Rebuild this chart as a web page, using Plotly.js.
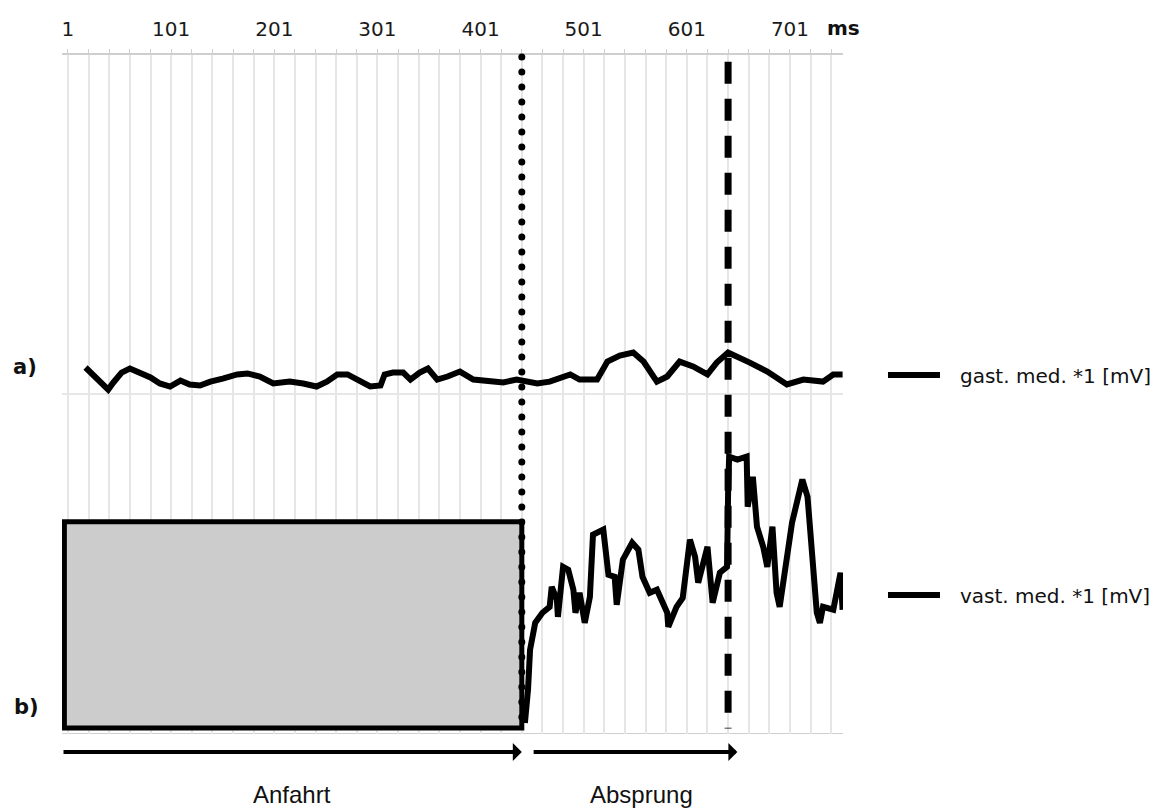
<!DOCTYPE html>
<html>
<head>
<meta charset="utf-8">
<script src="https://cdn.plot.ly/plotly-3.0.1.min.js"></script>
<style>
  html, body { margin: 0; padding: 0; background: #fff; }
  #chart { width: 1162px; height: 809px; }
</style>
</head>
<body>
<div id="chart"></div>
<script>
// ---- data ----
const tickMs = [1, 101, 201, 301, 401, 501, 601, 701];
const tickLabels = ['1', '101', '201', '301', '401', '501', '601', '701'];

// a) gastrocnemius medialis, smoothed EMG [mV]
const gastMs = [18,25,32,40,45,53,61,71,81,90,100,110,119,129,139,151,165,175,187,200,216,229,242,252,262,272,281,294,304,308,316,326,333,342,350,359,369,381,394,410,423,436,456,468,488,497,514,524,536,549,559,572,582,594,607,621,630,641,650,662,679,698,714,733,743,752];
const gastMv = [0.159,0.118,0.071,0.029,0.071,0.129,0.153,0.129,0.100,0.065,0.047,0.082,0.059,0.053,0.076,0.094,0.118,0.124,0.106,0.065,0.076,0.065,0.047,0.076,0.118,0.118,0.088,0.047,0.053,0.118,0.129,0.129,0.088,0.129,0.153,0.088,0.106,0.135,0.088,0.076,0.071,0.088,0.065,0.076,0.118,0.088,0.088,0.194,0.229,0.247,0.194,0.076,0.106,0.194,0.165,0.118,0.188,0.247,0.224,0.188,0.135,0.059,0.088,0.076,0.118,0.118];

// b) vastus medialis, smoothed EMG [mV] (earlier part hidden behind the grey box)
const vastMs = [444,447,449,454,461,468,470,475,476,481,486,491,493,497,502,507,510,520,525,531,533,539,548,554,558,565,572,582,583,591,597,604,609,612,621,626,633,640,641,642,650,659,660,665,669,675,679,684,688,691,703,713,718,727,730,733,743,750,752];
const vastMv = [0.065,0.26,0.496,0.655,0.714,0.749,0.867,0.791,0.690,0.985,0.968,0.850,0.714,0.832,0.655,0.808,1.174,1.204,0.938,0.926,0.761,1.027,1.127,1.086,0.926,0.832,0.850,0.714,0.631,0.749,0.802,1.145,1.044,0.891,1.103,0.773,0.950,0.985,1.422,1.634,1.617,1.634,1.339,1.516,1.221,1.103,0.985,1.221,0.832,0.749,1.245,1.499,1.398,0.714,0.655,0.749,0.732,0.950,0.732];

const seriesNames = ['gast. med. *1 [mV]', 'vast. med. *1 [mV]'];
const phaseNames = ['Anfahrt', 'Absprung'];
const eventMs = [441, 641];          // dotted: end of run-up, dashed: take-off
const phaseEndMs = [441, 650];       // arrow ends
const phaseStartMs = [-4.8, 451];    // arrow starts
const boxTopMv = 1.25;               // grey box in panel b
const boxBottomMv = 0.035;
const xRange = [-4.8, 752.4];
const yRange = [0, 2];

// ---- plot ----
const VERDANA = 'DejaVu Sans, Verdana, sans-serif';
const ARIAL = 'Liberation Sans, Arial, sans-serif';
const GRID = '#e6e6e6';
const AXIS = '#cfcfcf';

const traces = [
  { x: gastMs, y: gastMv, type: 'scatter', mode: 'lines', name: seriesNames[0],
    xaxis: 'x', yaxis: 'y', legend: 'legend',
    line: { color: '#000', width: 6 } },
  { x: vastMs, y: vastMv, type: 'scatter', mode: 'lines', name: seriesNames[1],
    xaxis: 'x', yaxis: 'y2', legend: 'legend2',
    line: { color: '#000', width: 6 } }
];

const shapes = [
  // baselines of both panels
  { type: 'line', xref: 'paper', x0: 0, x1: 1, yref: 'y', y0: 0, y1: 0,
    line: { color: AXIS, width: 2 }, layer: 'below' },
  { type: 'line', xref: 'paper', x0: 0, x1: 1, yref: 'y2', y0: 0, y1: 0,
    line: { color: AXIS, width: 2 }, layer: 'below' },
  // grey box (run-up phase) in panel b
  { type: 'rect', xref: 'x', x0: -2.5, x1: eventMs[0], yref: 'y2', y0: boxBottomMv, y1: boxTopMv,
    fillcolor: '#cccccc', line: { color: '#000', width: 5 }, layer: 'above' },
  // dotted event line
  { type: 'line', xref: 'x', x0: eventMs[0], x1: eventMs[0], yref: 'paper', y0: 0.997, y1: 0.009,
    line: { color: '#000', width: 7, dash: '0px,15px' }, layer: 'above' },
  // dashed event line
  { type: 'line', xref: 'x', x0: eventMs[1], x1: eventMs[1], yref: 'paper', y0: 0.99, y1: 0.008,
    line: { color: '#000', width: 7, dash: '22px,15px' }, layer: 'above' }
];

const annotations = [
  { text: '<b>ms</b>', xref: 'paper', yref: 'paper', x: 1.0, y: 1.0398,
    xanchor: 'center', yanchor: 'middle', showarrow: false,
    font: { family: VERDANA, size: 20, color: '#111' } },
  { text: '<b>a)</b>', xref: 'paper', yref: 'paper', x: -0.047, y: 0.5405,
    xanchor: 'center', yanchor: 'middle', showarrow: false,
    font: { family: VERDANA, size: 21, color: '#111' } },
  { text: '<b>b)</b>', xref: 'paper', yref: 'paper', x: -0.045, y: 0.040,
    xanchor: 'center', yanchor: 'middle', showarrow: false,
    font: { family: VERDANA, size: 21, color: '#111' } },
  { text: phaseNames[0], xref: 'x', yref: 'paper', x: (phaseStartMs[0] + phaseEndMs[0]) / 2, y: -0.089,
    xanchor: 'center', yanchor: 'middle', showarrow: false,
    font: { family: ARIAL, size: 24, color: '#111' } },
  { text: phaseNames[1], xref: 'x', yref: 'paper', x: 557, y: -0.089,
    xanchor: 'center', yanchor: 'middle', showarrow: false,
    font: { family: ARIAL, size: 24, color: '#111' } }
];
for (let i = 0; i < 2; i++) {
  annotations.push({
    text: '', xref: 'x', yref: 'paper', x: phaseEndMs[i], y: -0.0265,
    axref: 'x', ax: phaseStartMs[i], ayref: 'pixel', ay: 0,
    showarrow: true, arrowhead: 1, arrowsize: 0.75, arrowwidth: 4, arrowcolor: '#000',
    standoff: 0, startstandoff: 0
  });
}

const layout = {
  width: 1162, height: 809,
  margin: { l: 62, r: 319, t: 55, b: 75, pad: 0, autoexpand: false },
  paper_bgcolor: '#fff', plot_bgcolor: '#fff',
  font: { family: VERDANA, color: '#111' },
  xaxis: {
    type: 'linear', range: xRange, side: 'top', anchor: 'y',
    tickmode: 'array', tickvals: tickMs, ticktext: tickLabels,
    tickfont: { family: VERDANA, size: 20, color: '#1a1a1a' },
    ticks: 'outside', ticklen: 4, tickwidth: 1, tickcolor: AXIS,
    ticklabelstandoff: 5,
    showgrid: true, gridcolor: GRID, gridwidth: 2,
    showline: true, linecolor: AXIS, linewidth: 2,
    zeroline: false, fixedrange: true, automargin: false,
    minor: { tick0: 1, dtick: 20, showgrid: true, gridcolor: GRID, gridwidth: 2,
             ticks: 'outside', ticklen: 4, tickcolor: AXIS }
  },
  yaxis: { domain: [0.5, 1], range: yRange, visible: false, fixedrange: true },
  yaxis2: { domain: [0, 0.5], range: yRange, visible: false, fixedrange: true },
  legend: {
    x: 1.0512, xanchor: 'left', y: 0.5287, yanchor: 'middle',
    bgcolor: 'rgba(0,0,0,0)', borderwidth: 0, itemwidth: 67,
    font: { family: VERDANA, size: 20, color: '#111' }
  },
  legend2: {
    x: 1.0512, xanchor: 'left', y: 0.2047, yanchor: 'middle',
    bgcolor: 'rgba(0,0,0,0)', borderwidth: 0, itemwidth: 67,
    font: { family: VERDANA, size: 20, color: '#111' }
  },
  shapes: shapes,
  annotations: annotations,
  showlegend: true
};

Plotly.newPlot('chart', traces, layout, { displayModeBar: false, staticPlot: true }).then(function (gd) {
  // round dots for the dotted event line
  gd.querySelectorAll('.shapelayer path').forEach(function (p) {
    const da = p.style.strokeDasharray || '';
    if (da.indexOf('0px') === 0 || da.indexOf('0,') === 0 || da.indexOf('0 ') === 0) {
      p.style.strokeLinecap = 'round';
    }
  });
  // longer legend line samples, as in the original
  gd.querySelectorAll('.legendlines path').forEach(function (p) {
    p.setAttribute('d', 'M5,0h52');
  });
});
</script>
</body>
</html>
